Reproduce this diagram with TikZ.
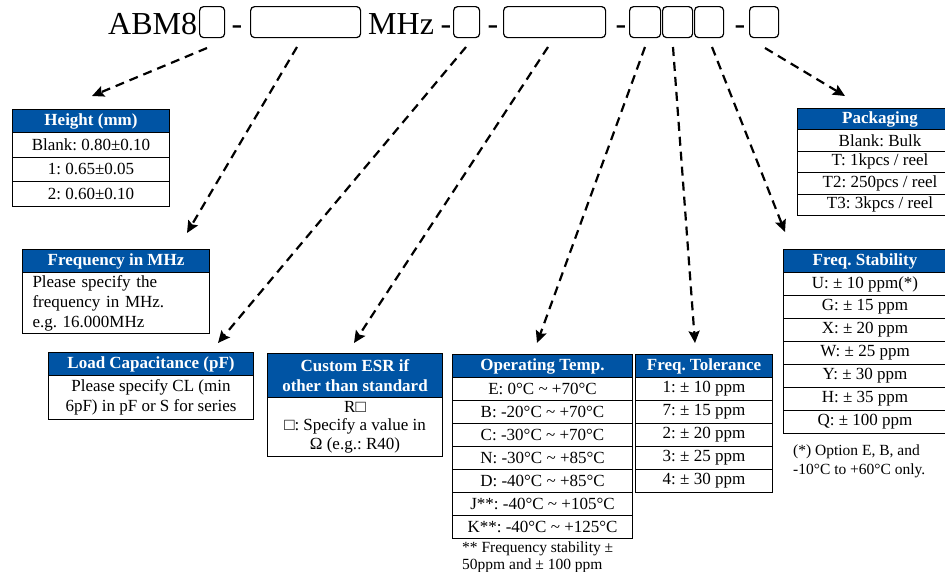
\documentclass[tikz,border=0pt]{standalone}
\usepackage{fontspec}
\setmainfont{Liberation Serif}
\usetikzlibrary{arrows.meta}
\definecolor{hdr}{RGB}{0,84,164}
\frenchspacing
\begin{document}
\begin{tikzpicture}[x=1pt,y=-1pt,
 pbox/.style={draw,line width=1.2pt,rounded corners=4pt,inner sep=0,anchor=north west,minimum height=31pt},
 big/.style={font=\fontsize{32}{36}\selectfont,inner sep=0,anchor=base west},
 hd/.style={draw=black,line width=1pt,fill=hdr,text=white,font=\bfseries\fontsize{17}{20}\selectfont,inner sep=0,anchor=north west,align=center},
 cl/.style={draw=black,line width=1pt,font=\fontsize{17}{20}\selectfont,inner sep=0,anchor=north west,align=center},
 note/.style={font=\fontsize{15.5}{18}\selectfont,inner sep=0,anchor=base west},
 arr/.style={line width=2.2pt,dash pattern=on 9pt off 6pt,-{Stealth[length=12pt,width=11pt,inset=2pt]}}]
\useasboundingbox (0,0) rectangle (945,571);
% top code line
\node[big] (t1) at (108,34) {ABM8};
\node[pbox,minimum width=25pt] (b1) at (199,6) {};
\node[big,anchor=base] (d1) at (237,34) {-};
\node[pbox,minimum width=110pt] (b2) at (250,6) {};
\node[big] (mhz) at (368,34) {MHz};
\node[big,anchor=base] (d2) at (446,34) {-};
\node[pbox,minimum width=26pt] (b3) at (453,6) {};
\node[big,anchor=base] (d3) at (493,34) {-};
\node[pbox,minimum width=102pt] (b4) at (503,6) {};
\node[big,anchor=base] (d4) at (621,34) {-};
\node[pbox,minimum width=31pt] (b5) at (629,6) {};
\node[pbox,minimum width=30pt] (b6) at (662,6) {};
\node[pbox,minimum width=29pt] (b7) at (694,6) {};
\node[big,anchor=base] (d5) at (740,34) {-};
\node[pbox,minimum width=29pt] (b8) at (749,6) {};
% Height
\node[hd,minimum width=157pt,minimum height=23pt] (h0) at (12,109) {Height (mm)};
\node[cl,minimum width=157pt,minimum height=24.5pt] (h1) at (12,132) {Blank: 0.80±0.10};
\node[cl,minimum width=157pt,minimum height=24.5pt] (h2) at (12,156.5) {1: 0.65±0.05};
\node[cl,minimum width=157pt,minimum height=24.5pt] (h3) at (12,181) {2: 0.60±0.10};
% Frequency
\node[hd,minimum width=187pt,minimum height=23pt] (f0) at (22,249) {Frequency in MHz};
\node[cl,align=left,text width=167pt,inner xsep=10pt,minimum height=61pt] (f1) at (22,272) {Please specify the\\frequency in MHz.\\e.g. 16.000MHz};
% Load capacitance
\node[hd,minimum width=205pt,minimum height=23pt] (l0) at (48,352) {Load Capacitance (pF)};
\node[cl,minimum width=205pt,minimum height=44pt] (l1) at (48,375) {Please specify CL (min\\6pF) in pF or S for series};
% ESR
\node[hd,minimum width=175pt,minimum height=44pt] (e0) at (267,353) {Custom ESR if\\other than standard};
\node[cl,minimum width=175pt,minimum height=59pt,font=\fontsize{17}{18.5}\selectfont] (e1) at (267,397) {R□\\□: Specify a value in\\Ω (e.g.: R40)};
% Operating temp
\node[hd,minimum width=180pt,minimum height=23pt] (o0) at (452,354) {Operating Temp.};
\node[cl,minimum width=180pt,minimum height=23pt] (o1) at (452,377) {E: 0°C \textasciitilde{} +70°C};
\node[cl,minimum width=180pt,minimum height=23pt] (o2) at (452,400) {B: -20°C \textasciitilde{} +70°C};
\node[cl,minimum width=180pt,minimum height=23pt] (o3) at (452,423) {C: -30°C \textasciitilde{} +70°C};
\node[cl,minimum width=180pt,minimum height=23pt] (o4) at (452,446) {N: -30°C \textasciitilde{} +85°C};
\node[cl,minimum width=180pt,minimum height=23pt] (o5) at (452,469) {D: -40°C \textasciitilde{} +85°C};
\node[cl,minimum width=180pt,minimum height=23pt] (o6) at (452,492) {J**: -40°C \textasciitilde{} +105°C};
\node[cl,minimum width=180pt,minimum height=23pt] (o7) at (452,515) {K**: -40°C \textasciitilde{} +125°C};
\node[note] (on1) at (462,552) {** Frequency stability ±};
\node[note] (on2) at (462,569) {50ppm and ± 100 ppm};
% Freq tolerance
\node[hd,minimum width=137pt,minimum height=23pt] (q0) at (635,354) {Freq. Tolerance};
\node[cl,minimum width=137pt,minimum height=23pt] (q1) at (635,377) {1: ± 10 ppm};
\node[cl,minimum width=137pt,minimum height=23pt] (q2) at (635,400) {7: ± 15 ppm};
\node[cl,minimum width=137pt,minimum height=23pt] (q3) at (635,423) {2: ± 20 ppm};
\node[cl,minimum width=137pt,minimum height=23pt] (q4) at (635,446) {3: ± 25 ppm};
\node[cl,minimum width=137pt,minimum height=23pt] (q5) at (635,469) {4: ± 30 ppm};
% Freq stability
\node[hd,minimum width=163pt,minimum height=23pt] (s0) at (783,249) {Freq. Stability};
\node[cl,minimum width=163pt,minimum height=23pt] (s1) at (783,272) {U: ± 10 ppm(*)};
\node[cl,minimum width=163pt,minimum height=23pt] (s2) at (783,295) {G: ± 15 ppm};
\node[cl,minimum width=163pt,minimum height=23pt] (s3) at (783,318) {X: ± 20 ppm};
\node[cl,minimum width=163pt,minimum height=23pt] (s4) at (783,341) {W: ± 25 ppm};
\node[cl,minimum width=163pt,minimum height=23pt] (s5) at (783,364) {Y: ± 30 ppm};
\node[cl,minimum width=163pt,minimum height=23pt] (s6) at (783,387) {H: ± 35 ppm};
\node[cl,minimum width=163pt,minimum height=23pt] (s7) at (783,410) {Q: ± 100 ppm};
\node[note] (sn1) at (793,455) {(*) Option E, B, and};
\node[note] (sn2) at (793,474) {-10°C to +60°C only.};
% Packaging
\node[hd,minimum width=165pt,minimum height=21pt] (p0) at (797,108) {Packaging};
\node[cl,minimum width=165pt,minimum height=21.5pt] (p1) at (797,129) {Blank: Bulk};
\node[cl,minimum width=165pt,minimum height=21.5pt] (p2) at (797,150.5) {T: 1kpcs / reel};
\node[cl,minimum width=165pt,minimum height=21.5pt] (p3) at (797,172) {T2: 250pcs / reel};
\node[cl,minimum width=165pt,minimum height=21.5pt] (p4) at (797,193.5) {T3: 3kpcs / reel};
% arrows
\coordinate (a1s) at (207,48); \coordinate (a1e) at (92,96);
\coordinate (a2s) at (297,47); \coordinate (a2e) at (187,233);
\coordinate (a3s) at (466,47); \coordinate (a3e) at (218,343);
\coordinate (a4s) at (548,47); \coordinate (a4e) at (354,343);
\coordinate (a5s) at (645,47); \coordinate (a5e) at (537,343);
\coordinate (a6s) at (673,47); \coordinate (a6e) at (695,343);
\coordinate (a7s) at (712,47); \coordinate (a7e) at (785,232);
\coordinate (a8s) at (765,48); \coordinate (a8e) at (845,96);
\draw[arr] (a1s) -- (a1e);
\draw[arr] (a2s) -- (a2e);
\draw[arr] (a3s) -- (a3e);
\draw[arr] (a4s) -- (a4e);
\draw[arr] (a5s) -- (a5e);
\draw[arr] (a6s) -- (a6e);
\draw[arr] (a7s) -- (a7e);
\draw[arr] (a8s) -- (a8e);
\end{tikzpicture}
\end{document}
